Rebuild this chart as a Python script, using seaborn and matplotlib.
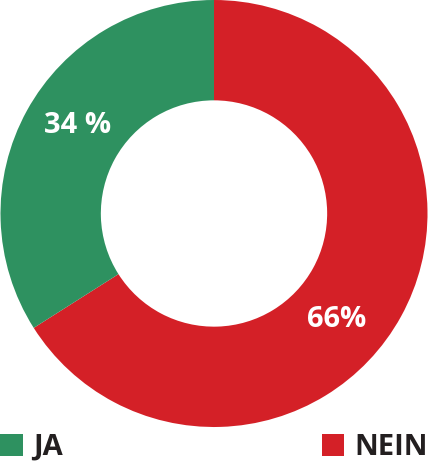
import matplotlib
matplotlib.use("Agg")
import matplotlib.pyplot as plt
from matplotlib.patches import Patch
import seaborn as sns
import numpy as np

# ─── Daten ───────────────────────────────────────────────────────────
labels = ["NEIN", "JA"]
values = [66, 34]
pct_text = ["66%", "34 %"]
COLORS = ["#d42027", "#2e9160"]

sns.set_theme(style="white")
plt.rcParams['font.family'] = ['Open Sans', 'DejaVu Sans']

fig = plt.figure(figsize=(4.28, 4.62), dpi=100)
ax = fig.add_axes([0, 35 / 462, 1, 427 / 462])

wedges, _ = ax.pie(values, colors=COLORS, startangle=90, counterclock=False,
                   radius=1.0, wedgeprops=dict(width=0.47, linewidth=0))
ax.set_aspect('equal')
ax.set_xlim(-1.0, 1.0)
ax.set_ylim(-1.0, 1.0)

# Etiketten (Winkel leicht verschoben wie im Original)
for txt, ang in zip(pct_text, [-41, 147]):
    r = 0.76
    x, y = r * np.cos(np.radians(ang)), r * np.sin(np.radians(ang))
    ax.text(x, y, txt, ha='center', va='center', color='white',
            fontsize=21, fontweight='bold')

# Legende
h_ja = [Patch(facecolor=COLORS[1], edgecolor='none')]
h_nein = [Patch(facecolor=COLORS[0], edgecolor='none')]
kw = dict(frameon=False, handlelength=0.78, handleheight=0.78, handletextpad=0.35,
          borderaxespad=0, borderpad=0,
          prop=dict(size=21, weight='bold'), labelcolor='#231f20')
fig.legend(h_ja, ["JA"], loc='lower left', bbox_to_anchor=(0.0, 0.0), **kw)
fig.legend(h_nein, ["NEIN"], loc='lower right', bbox_to_anchor=(1.0, 0.0), **kw)

fig.savefig("out.png", dpi=100, facecolor='white')
